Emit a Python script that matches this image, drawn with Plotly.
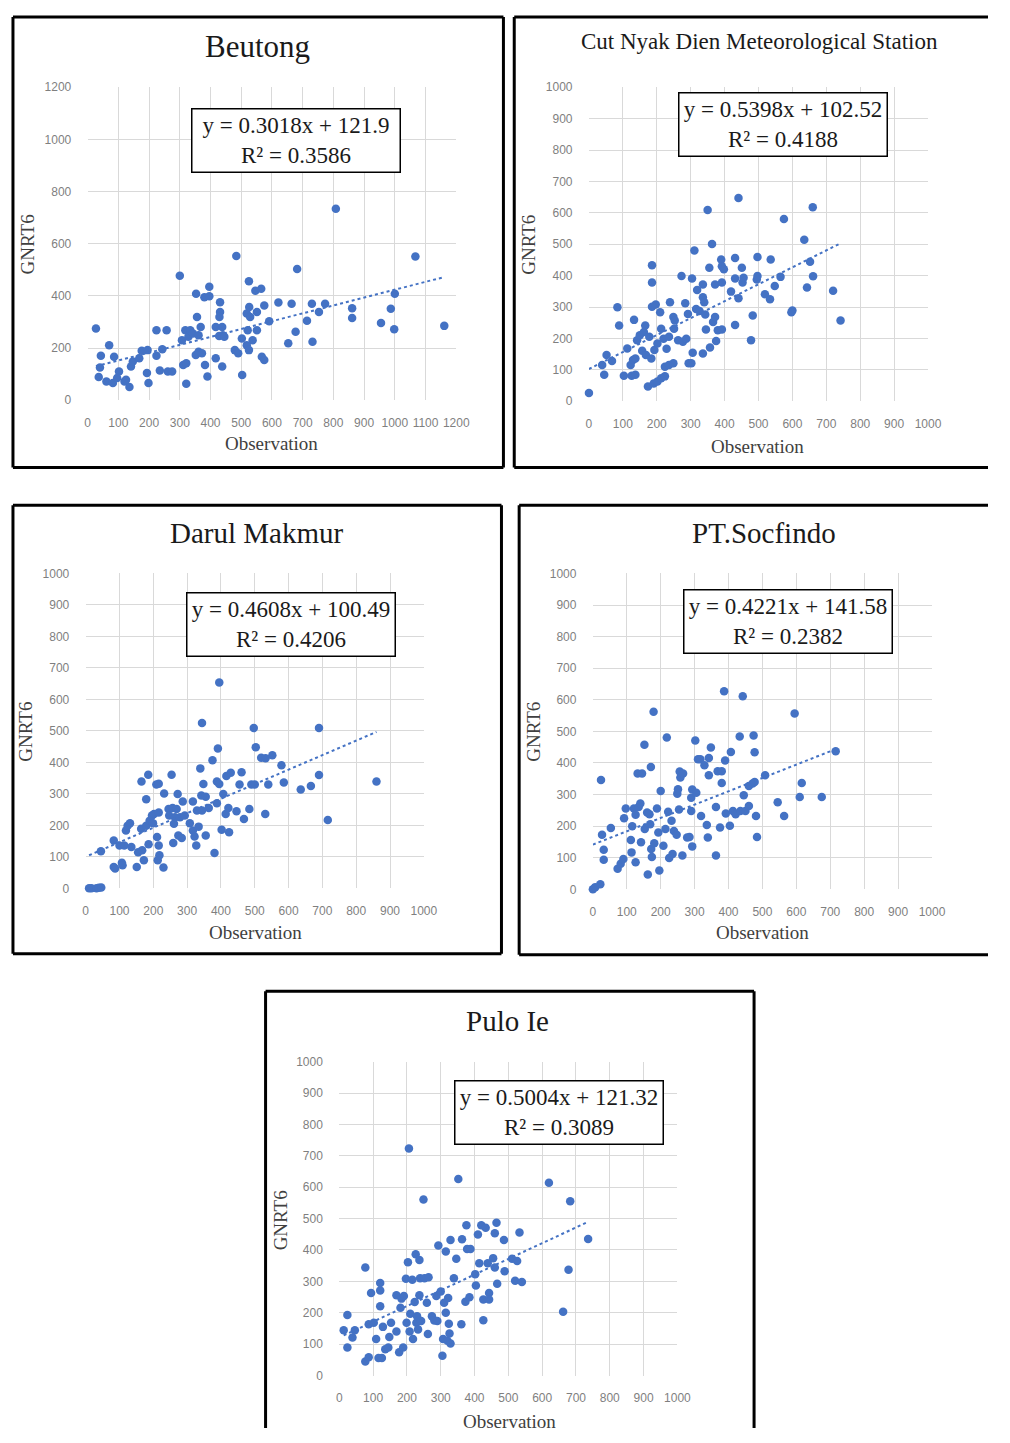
import numpy as np
import plotly.graph_objects as go

# ---------------- data ----------------
station_names = ["Beutong", "Cut Nyak Dien Meteorological Station", "Darul Makmur",
                 "PT.Socfindo", "Pulo Ie"]

beutong_obs = [27, 43, 40, 36, 70, 61, 86, 82, 102, 96, 120, 125, 136, 141, 147, 168, 176, 195, 193, 198,
               224, 224, 243, 235, 257, 261, 275, 300, 307, 311, 321, 321, 318, 328, 334, 343, 353, 356, 361, 368,
               352, 361, 372, 380, 382, 390, 396, 396, 417, 417, 431, 431, 429, 438, 440, 428, 438, 445, 484, 479,
               490, 503, 502, 518, 525, 525, 518, 526, 529, 521, 537, 546, 551, 551, 565, 567, 575, 575, 591, 621,
               653, 664, 677, 682, 714, 730, 732, 753, 773, 808, 861, 861, 955, 987, 1000, 998, 1067, 1161]
beutong_gnrt = [275, 170, 125, 89, 211, 72, 167, 66, 110, 85, 72, 78, 51, 129, 148, 161, 190, 192, 104, 66,
                170, 268, 195, 114, 268, 110, 110, 477, 230, 135, 142, 63, 268, 243, 268, 256, 408, 319, 249, 281,
                173, 186, 180, 395, 135, 91, 435, 399, 161, 281, 376, 338, 319, 281, 249, 246, 129, 243, 553, 192,
                180, 97, 237, 211, 192, 456, 332, 357, 319, 268, 230, 420, 338, 268, 427, 167, 154, 363, 303, 375,
                218, 370, 262, 503, 305, 370, 224, 338, 370, 734, 353, 315, 296, 351, 408, 272, 551, 285]

cutnyak_obs = [0, 39, 45, 52, 68, 84, 89, 103, 113, 123, 126, 133, 130, 137, 137, 142, 150, 157, 162, 166,
               168, 174, 178, 184, 186, 186, 186, 191, 193, 197, 202, 202, 210, 213, 213, 220, 224, 224, 229, 236,
               239, 236, 249, 251, 249, 253, 263, 273, 277, 284, 287, 292, 294, 302, 304, 306, 311, 316, 319, 326,
               336, 336, 336, 340, 343, 345, 350, 355, 357, 363, 366, 372, 372, 375, 380, 390, 392, 392, 398, 392,
               419, 431, 431, 431, 441, 441, 451, 453, 456, 478, 483, 495, 497, 497, 519, 534, 536, 548, 565, 575,
               600, 597, 635, 643, 652, 660, 661, 720, 742]
cutnyak_gnrt = [26, 115, 84, 147, 128, 299, 241, 81, 168, 115, 81, 259, 131, 84, 136, 194, 210, 161, 220, 241,
                147, 47, 205, 136, 433, 378, 301, 56, 163, 308, 184, 63, 283, 231, 73, 199, 79, 110, 167, 205,
                315, 115, 268, 231, 121, 257, 194, 399, 189, 312, 199, 278, 121, 121, 391, 154, 480, 294, 354, 287,
                372, 331, 152, 315, 276, 228, 609, 425, 171, 501, 252, 268, 372, 192, 226, 451, 430, 378, 420, 228,
                349, 456, 391, 243, 647, 328, 425, 378, 393, 194, 273, 388, 459, 399, 341, 325, 451, 367, 396, 580,
                289, 283, 514, 362, 444, 618, 398, 352, 257]

darul_obs = [10, 17, 32, 39, 46, 45, 83, 83, 87, 100, 107, 109, 114, 119, 124, 131, 135, 151, 155, 165,
             164, 167, 172, 179, 179, 185, 186, 189, 196, 199, 202, 209, 211, 213, 216, 216, 216, 218, 230, 232,
             245, 247, 254, 259, 257, 261, 264, 269, 272, 274, 279, 284, 287, 293, 308, 317, 317, 322, 327, 329,
             334, 339, 342, 344, 344, 348, 355, 355, 364, 375, 381, 388, 388, 391, 395, 395, 402, 407, 414, 416,
             422, 424, 429, 446, 455, 461, 468, 484, 490, 497, 500, 503, 519, 531, 532, 540, 552, 579, 586, 636,
             666, 690, 690, 716, 860]
darul_gnrt = [0, 0, 0, 2, 3, 118, 152, 68, 63, 136, 81, 73, 136, 184, 199, 207, 131, 68, 115, 339,
              189, 121, 89, 283, 199, 361, 140, 215, 231, 207, 236, 330, 163, 89, 332, 241, 136, 105, 66, 301,
              252, 231, 361, 144, 255, 205, 226, 252, 300, 168, 226, 160, 276, 231, 207, 276, 184, 165, 136, 247,
              196, 381, 295, 525, 247, 331, 291, 168, 255, 407, 112, 270, 339, 444, 654, 331, 186, 300, 236, 357,
              255, 178, 367, 245, 330, 369, 220, 252, 330, 509, 330, 448, 415, 236, 413, 330, 423, 391, 336, 314,
              325, 509, 360, 217, 339]

socfindo_obs = [0, 7, 22, 24, 27, 32, 32, 53, 73, 82, 90, 92, 97, 112, 114, 116, 121, 126, 126, 132,
                135, 140, 145, 142, 152, 153, 160, 162, 167, 169, 171, 172, 174, 179, 181, 189, 193, 196, 200, 208,
                214, 218, 222, 225, 232, 235, 239, 247, 249, 251, 254, 256, 258, 264, 266, 278, 285, 290, 290, 293,
                293, 302, 305, 310, 317, 319, 329, 336, 339, 342, 342, 348, 363, 363, 368, 375, 380, 380, 387, 390,
                392, 404, 407, 413, 421, 433, 435, 442, 445, 450, 460, 460, 471, 474, 477, 477, 481, 484, 508, 545,
                564, 595, 610, 616, 675, 716]
socfindo_gnrt = [0, 7, 16, 346, 173, 125, 94, 194, 65, 81, 96, 225, 256, 156, 117, 200, 256, 86, 236, 367,
                 261, 272, 367, 149, 458, 191, 243, 47, 238, 206, 387, 128, 102, 562, 146, 256, 180, 60, 311, 138,
                 191, 481, 246, 99, 217, 112, 185, 173, 303, 317, 253, 373, 354, 107, 367, 164, 166, 290, 248, 136,
                 316, 471, 306, 412, 412, 232, 393, 204, 164, 361, 416, 449, 261, 107, 374, 196, 374, 337, 627, 408,
                 240, 201, 435, 248, 238, 484, 248, 611, 298, 248, 264, 327, 335, 487, 340, 434, 232, 166, 361, 276,
                 232, 557, 292, 337, 292, 437]

puloie_obs = [13, 24, 24, 39, 46, 77, 77, 87, 87, 94, 102, 109, 116, 121, 121, 121, 126, 129, 136, 145,
              148, 153, 169, 169, 177, 181, 184, 189, 191, 197, 199, 203, 206, 208, 210, 216, 218, 223, 226, 228,
              230, 233, 237, 237, 239, 242, 249, 252, 259, 262, 264, 274, 281, 287, 290, 293, 300, 305, 307, 310,
              315, 315, 320, 322, 324, 326, 329, 329, 339, 346, 352, 361, 363, 373, 376, 378, 385, 388, 402, 404,
              410, 414, 420, 426, 426, 433, 439, 443, 443, 455, 460, 460, 465, 467, 487, 489, 511, 520, 526, 533,
              540, 620, 662, 678, 683, 736]
puloie_gnrt = [144, 193, 89, 121, 144, 344, 45, 58, 163, 263, 168, 116, 56, 295, 271, 221, 56, 155, 84, 89,
               123, 168, 256, 140, 74, 216, 245, 89, 253, 308, 168, 361, 723, 140, 197, 305, 116, 234, 386, 168,
               189, 147, 368, 256, 310, 174, 561, 310, 232, 132, 313, 189, 175, 253, 174, 414, 268, 63, 116, 232,
               395, 200, 111, 247, 165, 134, 102, 432, 310, 372, 626, 163, 434, 235, 479, 403, 249, 403, 323, 287,
               449, 358, 479, 176, 242, 471, 358, 263, 242, 374, 344, 453, 487, 292, 432, 332, 372, 302, 365, 456,
               298, 614, 203, 337, 555, 435]

slopes = ["0.3018", "0.5398", "0.4608", "0.4221", "0.5004"]
intercepts = ["121.9", "102.52", "100.49", "141.58", "121.32"]
r2_values = ["0.3586", "0.4188", "0.4206", "0.2382", "0.3089"]

x_ticks_beutong = list(range(0, 1201, 100))
y_ticks_beutong = list(range(0, 1201, 200))
x_ticks_other = list(range(0, 1001, 100))
y_ticks_other = list(range(0, 1001, 100))

x_title = "Observation"
y_title = "GNRT6"

obs_sets = [beutong_obs, cutnyak_obs, darul_obs, socfindo_obs, puloie_obs]
gnrt_sets = [beutong_gnrt, cutnyak_gnrt, darul_gnrt, socfindo_gnrt, puloie_gnrt]
xtick_sets = [x_ticks_beutong, x_ticks_other, x_ticks_other, x_ticks_other, x_ticks_other]
ytick_sets = [y_ticks_beutong, y_ticks_other, y_ticks_other, y_ticks_other, y_ticks_other]

# ---------------- layout (page pixel positions) ----------------
PAGE_MARGIN = 8              # default body margin of the html page
W, H = 1010 - 2 * PAGE_MARGIN, 1443 - 2 * PAGE_MARGIN
RIGHT_EDGE = 1010 - PAGE_MARGIN
BOTTOM_EDGE = 1443 - PAGE_MARGIN


def px(x):
    return (x - PAGE_MARGIN) / W


def py(y):
    return 1 - (y - PAGE_MARGIN) / H


# box sides: (left, top, right, bottom); None = side runs off the page
panel_layout = [
    dict(xdom=(86, 461), ydom=(81, 397), box=(10, 10, 509, 465), title=(259, 40, 31),
         eq=(298, 135), xt=(273, 441), yt=(25, 240)),
    dict(xdom=(596, 941), ydom=(81, 398), box=(520, 10, None, 465), title=(770, 35, 23),
         eq=(793, 119), xt=(767, 444), yt=(535, 240)),
    dict(xdom=(84, 428), ydom=(572, 890), box=(10, 503, 507, 956), title=(258, 531, 29),
         eq=(293, 624), xt=(257, 935), yt=(23, 732)),
    dict(xdom=(600, 945), ydom=(572, 891), box=(525, 503, None, 957), title=(774, 531, 29),
         eq=(799, 621), xt=(773, 935), yt=(540, 732)),
    dict(xdom=(342, 686), ydom=(1065, 1382), box=(267, 994, 764, None), title=(513, 1024, 29),
         eq=(566, 1116), xt=(515, 1428), yt=(282, 1225)),
]

BLUE = "#4472C4"
SERIF = "Liberation Serif"
fig = go.Figure()
annotations = []
shapes = []
axes = {}


def border_line(xa0, ya0, xa1, ya1):
    return dict(type="line", xref="paper", yref="paper", x0=px(xa0), x1=px(xa1),
                y0=py(ya0), y1=py(ya1), line=dict(color="black", width=3), layer="above")


for i in range(5):
    L = panel_layout[i]
    xa = "x" if i == 0 else f"x{i+1}"
    ya = "y" if i == 0 else f"y{i+1}"
    obs = np.array(obs_sets[i], dtype=float)
    gn = np.array(gnrt_sets[i], dtype=float)
    m = float(slopes[i])
    b = float(intercepts[i])

    fig.add_trace(go.Scatter(x=obs, y=gn, mode="markers", xaxis=xa, yaxis=ya,
                             marker=dict(color=BLUE, size=8.5), cliponaxis=False,
                             showlegend=False, hoverinfo="x+y"))
    xl = np.array([obs.min(), obs.max()])
    fig.add_trace(go.Scatter(x=xl, y=m * xl + b, mode="lines", xaxis=xa, yaxis=ya,
                             line=dict(color=BLUE, width=2, dash="dot"),
                             showlegend=False, hoverinfo="skip"))

    xt = xtick_sets[i]
    yt = ytick_sets[i]
    common = dict(showgrid=True, gridcolor="#d9d9d9", gridwidth=1, zeroline=False, showline=False,
                  ticks="outside", tickcolor="rgba(0,0,0,0)",
                  tickfont=dict(family="Liberation Sans", size=12, color="#7f7f7f"))
    xkey = "xaxis" if i == 0 else f"xaxis{i+1}"
    ykey = "yaxis" if i == 0 else f"yaxis{i+1}"
    axes[xkey] = dict(domain=[px(L["xdom"][0]), px(L["xdom"][1])], range=[xt[0], xt[-1]],
                      tickvals=xt, ticktext=[str(v) for v in xt], anchor=ya, ticklen=11, **common)
    axes[ykey] = dict(domain=[py(L["ydom"][1]), py(L["ydom"][0])], range=[yt[0], yt[-1]],
                      tickvals=yt, ticktext=[str(v) for v in yt], anchor=xa, ticklen=13, **common)

    # border box (sides that run off the page are left open)
    bl, bt, br, bb = L["box"]
    r_ = br if br is not None else RIGHT_EDGE
    b_ = bb if bb is not None else BOTTOM_EDGE
    shapes.append(border_line(bl, bt, r_, bt))   # top
    shapes.append(border_line(bl, bt, bl, b_))   # left
    if br is not None:
        shapes.append(border_line(br, bt, br, b_))
    if bb is not None:
        shapes.append(border_line(bl, bb, r_, bb))

    # title
    tx, ty, ts = L["title"]
    annotations.append(dict(text=station_names[i], xref="paper", yref="paper", x=px(tx), y=py(ty),
                            xanchor="center", yanchor="middle", showarrow=False,
                            font=dict(family=SERIF, size=ts, color="#1a1a1a")))
    # equation box
    ex, ey = L["eq"]
    annotations.append(dict(text=f"y = {slopes[i]}x + {intercepts[i]}<br>R² = {r2_values[i]}",
                            xref="paper", yref="paper", x=px(ex), y=py(ey),
                            xanchor="center", yanchor="middle", showarrow=False,
                            font=dict(family=SERIF, size=23, color="#1a1a1a"),
                            bgcolor="white", bordercolor="black", borderwidth=1.5, borderpad=1,
                            width=205, height=60, align="center"))
    # axis titles
    ax_, ay_ = L["xt"]
    annotations.append(dict(text=x_title, xref="paper", yref="paper", x=px(ax_), y=py(ay_),
                            xanchor="center", yanchor="middle", showarrow=False,
                            font=dict(family=SERIF, size=19, color="#404040")))
    gx, gy = L["yt"]
    annotations.append(dict(text=y_title, xref="paper", yref="paper", x=px(gx), y=py(gy),
                            xanchor="center", yanchor="middle", showarrow=False, textangle=-90,
                            font=dict(family=SERIF, size=19, color="#404040")))

fig.update_layout(width=W, height=H, margin=dict(l=0, r=0, t=0, b=0),
                  paper_bgcolor="white", plot_bgcolor="white",
                  annotations=annotations, shapes=shapes, **axes)

fig.write_html("out.html", config={"displayModeBar": False})
